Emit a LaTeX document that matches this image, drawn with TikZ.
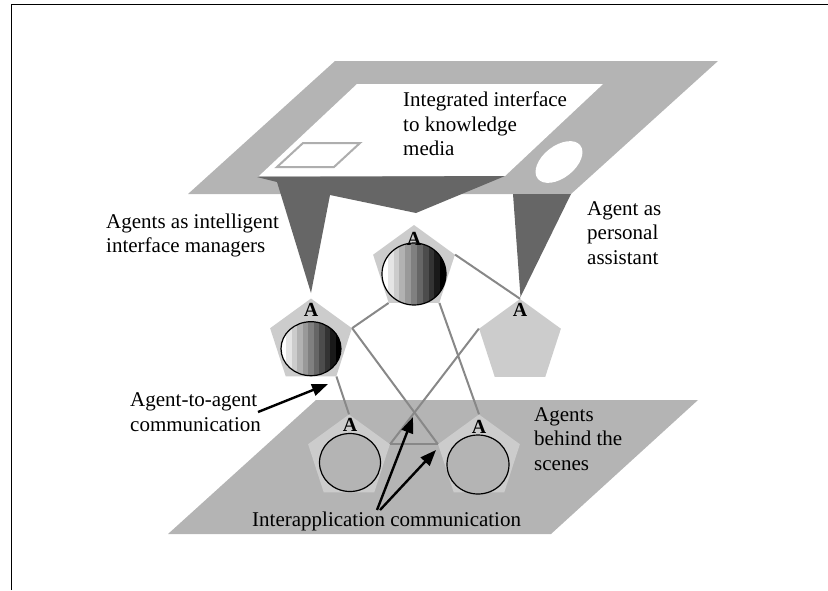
\documentclass[tikz,border=0pt]{standalone}
\usepackage{fontspec}
\setmainfont{Liberation Serif}
\usetikzlibrary{shapes.geometric,arrows.meta}

\definecolor{planegray}{HTML}{B4B4B4}
\definecolor{pentgray}{HTML}{CCCCCC}
\definecolor{darkcone}{HTML}{666666}
\definecolor{linkgray}{HTML}{888888}
\definecolor{boxgray}{HTML}{AEAEAE}

\newcommand\agentball[4]{%
  \begin{scope}
    \clip (#1,#2) ellipse [x radius=#3, y radius=#4];
    \foreach \i in {0,...,10}{%
      \pgfmathsetmacro\ballshade{\i*10}%
      \pgfmathsetmacro\stripex{#1-#3+\i*2*#3/11}%
      \fill[black!\ballshade!white] (\stripex,#2-#4-1) rectangle ({\stripex+2*#3/11+0.4},#2+#4+1);
    }
  \end{scope}
  \draw[line width=1.2pt] (#1,#2) ellipse [x radius=#3, y radius=#4];
}

\begin{document}
\begin{tikzpicture}[x=1pt,y=-1pt,
  agent/.style={regular polygon, regular polygon sides=5, minimum size=86pt, inner sep=0pt, fill=pentgray, draw=none},
  alabel/.style={font=\fontsize{20}{20}\selectfont\bfseries, inner sep=0pt},
  lbl/.style={font=\fontsize{21}{24.5}\selectfont, align=left, inner sep=0pt, anchor=base west},
  link/.style={draw=linkgray, line width=2pt},
  callout/.style={line width=2.4pt, -{Triangle[length=16pt,width=12pt]}},
  plainball/.style={line width=1.2pt, fill=planegray},
]
\useasboundingbox (0,0) rectangle (828,590);

% frame
\draw[line width=1pt] (11,590) -- (11,4.7) -- (828,4.7);

% top plane
\fill[planegray] (335,61) -- (718,61) -- (571,194) -- (188,194) -- cycle;
\fill[white] (357,84) -- (603,84) -- (505,176) -- (259,176) -- cycle;
\draw[boxgray, line width=2pt] (303,143) -- (360,143) -- (334,167) -- (277,167) -- cycle;
\fill[white, rotate around={38:(559,162)}] (559,162) ellipse [x radius=27, y radius=16];

% projection cones
\fill[darkcone] (257,177) -- (505,176) -- (416,213) -- (330,195) -- (311,293) -- (277,182) -- cycle;
\fill[darkcone] (513,194) -- (571,194) -- (520.5,297) -- cycle;

% bottom plane
\fill[planegray] (316,400) -- (698,400) -- (551,534) -- (168,534) -- cycle;

% agents
\node[agent] (mid) at (414,268) {};
\node[agent] (left) at (311,341.5) {};
\node[agent] (right) at (520,342) {};
\node[agent] (bl) at (349,457.5) {};
\node[agent] (br) at (479,457.5) {};

% links
\draw[link] (left.corner 5) -- (mid.corner 3);
\draw[link] (mid.corner 5) -- (right.corner 1);
\draw[link] (left.corner 5) -- (br.corner 2);
\draw[link] (mid.corner 4) -- (br.corner 1);
\draw[link] (right.corner 2) -- (bl.corner 5);
\draw[link] (bl.corner 5) -- (br.corner 2);
\draw[link] (left.corner 4) -- (bl.corner 1);

% balls
\agentball{414}{274}{32}{31}
\agentball{311}{348.7}{30}{27}
\draw[plainball] (350,462.5) ellipse [x radius=30.5, y radius=29];
\draw[plainball] (478,464.5) ellipse [x radius=31, y radius=29.5];

% A labels
\node[alabel] (midA) at (414,238.5) {A};
\node[alabel] (leftA) at (311,309.5) {A};
\node[alabel] (rightA) at (520,309.5) {A};
\node[alabel] (blA) at (350,425) {A};
\node[alabel] (brA) at (479,426.5) {A};

% texts (anchored at the baseline of their last line)
\node[lbl] (iface) at (403,155.5) {Integrated interface\\to knowledge\\media};
\node[lbl] (mgr) at (106,252.5) {Agents as intelligent\\interface managers};
\node[lbl] (pa) at (587,264) {Agent as\\personal\\assistant};
\node[lbl] (a2a) at (130,431) {Agent-to-agent\\communication};
\node[lbl] (behind) at (534,470) {Agents\\behind the\\scenes};
\node[lbl] (inter) at (252,526) {Interapplication communication};

% callout arrows
\coordinate (a2aStart) at (258,412);
\coordinate (a2aTip) at (328,384);
\coordinate (iaStartA) at (377,510);
\coordinate (iaTipA) at (413,417);
\coordinate (iaStartB) at (380,510);
\coordinate (iaTipB) at (436,450);
\draw[callout] (a2aStart) -- (a2aTip);
\draw[callout] (iaStartA) -- (iaTipA);
\draw[callout] (iaStartB) -- (iaTipB);
\end{tikzpicture}
\end{document}
